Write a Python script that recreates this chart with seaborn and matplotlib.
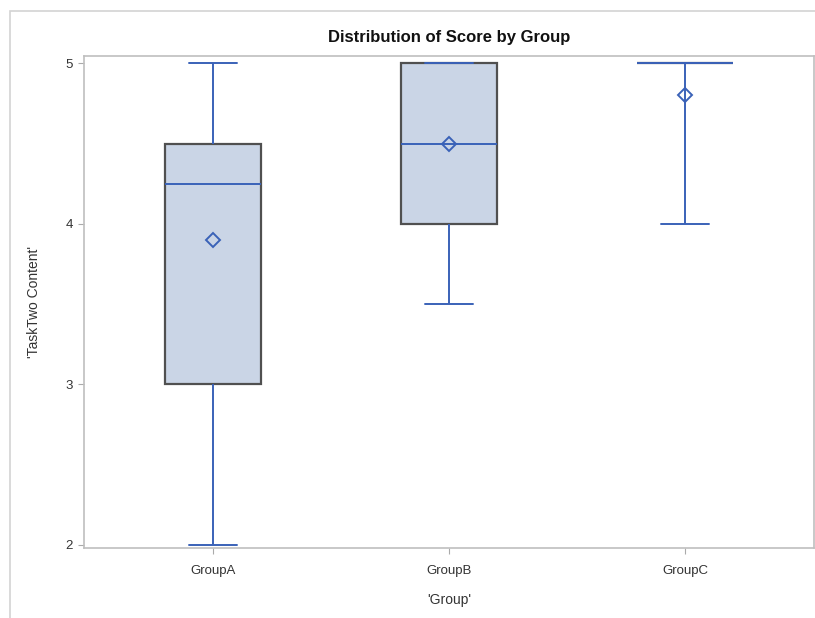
import matplotlib
matplotlib.use("Agg")
import matplotlib.pyplot as plt
import seaborn as sns
import pandas as pd
from matplotlib.patches import Rectangle

groups = ["GroupA", "GroupB", "GroupC"]
scores_a = [2, 3, 3, 3, 3.8, 4.25, 4.25, 4.5, 4.5, 4.5, 5, 5]
scores_b = [3.5, 4, 4, 4, 4.5, 4.5, 4.5, 5, 5, 5, 5, 5]
scores_c = [4, 5, 5, 5, 5]
y_ticks = [2, 3, 4, 5]

df = pd.DataFrame({
    "Group": ["GroupA"] * len(scores_a) + ["GroupB"] * len(scores_b) + ["GroupC"] * len(scores_c),
    "Score": scores_a + scores_b + scores_c,
})

sns.set_style("white")
plt.rcParams["font.family"] = ["Liberation Sans", "DejaVu Sans"]

W, H = 815, 618
fig = plt.figure(figsize=(W / 100, H / 100), dpi=100)
fig.patch.set_facecolor("white")

# outer light frame (left/top visible)
fig.patches.append(Rectangle((10 / W, -0.1), 1.2, 1 - 11 / H + 0.1, transform=fig.transFigure,
                             fill=False, edgecolor="#D3D3D3", linewidth=1.2))

ax = fig.add_axes([84 / W, 1 - 548 / H, (814 - 84) / W, (548 - 56) / H])

blue = "#3A62B8"
sns.boxplot(data=df, x="Group", y="Score", order=groups, whis=(0, 100), width=0.41,
            color="#CAD5E6", saturation=1, linecolor="#505050", linewidth=1.6,
            showfliers=False, showmeans=True,
            meanprops=dict(marker="D", markerfacecolor="none", markeredgecolor=blue,
                           markeredgewidth=1.4, markersize=7.5),
            whiskerprops=dict(color=blue, linewidth=1.4),
            capprops=dict(color=blue, linewidth=1.4),
            medianprops=dict(color=blue, linewidth=1.4),
            ax=ax)

ax.set_xlim(-0.547, 2.547)
ax.set_ylim(1.981, 5.045)
ax.set_yticks(y_ticks)
ax.set_yticklabels([str(v) for v in y_ticks])

for s in ax.spines.values():
    s.set_visible(True)
    s.set_color("#BFBFBF")
    s.set_linewidth(1.2)

ax.tick_params(axis="both", which="both", length=4, width=0.8, color="#AAAAAA",
               labelsize=9.5, labelcolor="#333333", direction="out")
ax.tick_params(axis="x", pad=8)
ax.tick_params(axis="y", pad=4)
ax.yaxis.set_ticks_position("left")
ax.xaxis.set_ticks_position("bottom")

ax.set_xlabel("'Group'", fontsize=10, color="#333333", labelpad=12)
ax.set_ylabel("'TaskTwo Content'", fontsize=10, color="#333333", labelpad=18)
ax.set_title("Distribution of Score by Group", fontsize=12, fontweight="bold",
             color="#111111", pad=10)

fig.savefig("out.png", dpi=100)
